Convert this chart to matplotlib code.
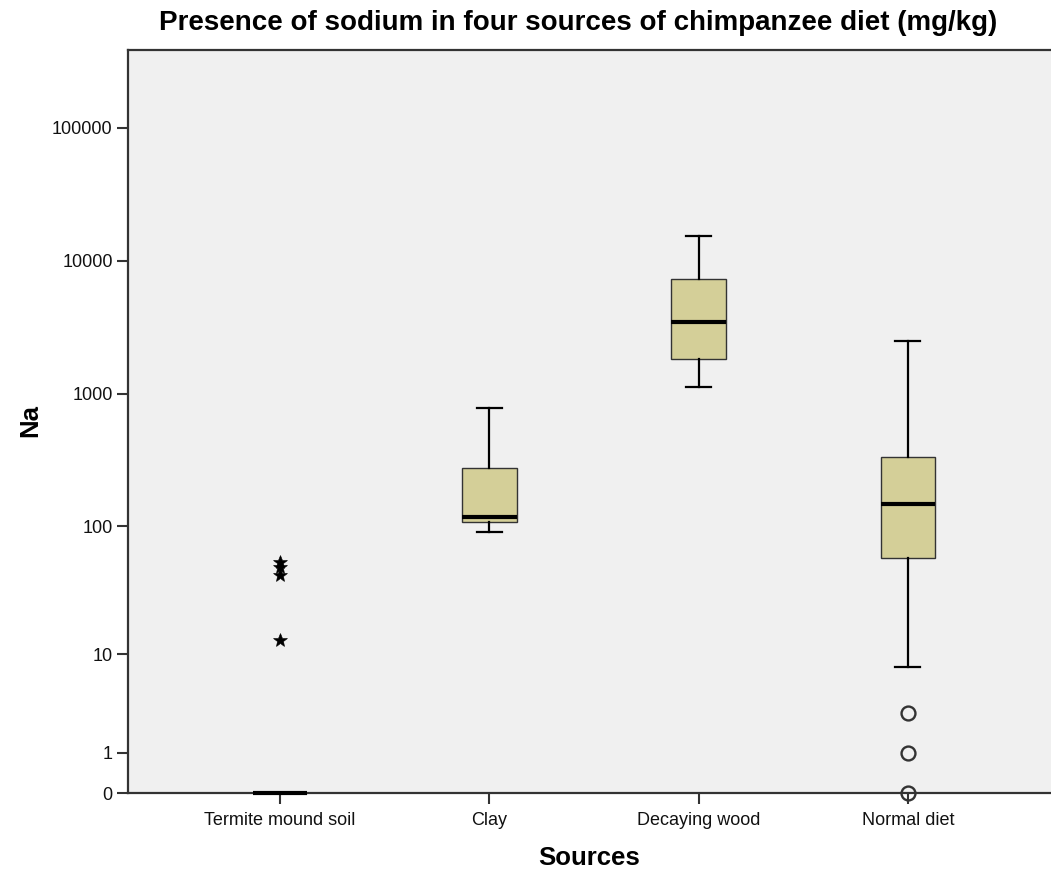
import numpy as np
import matplotlib
matplotlib.use("Agg")
import matplotlib.pyplot as plt

plt.rcParams['font.family'] = ['Liberation Sans', 'DejaVu Sans']

categories = ["Termite mound soil", "Clay", "Decaying wood", "Normal diet"]
medians = [0, 118, 3480, 148]
q1 = [0, 108, 1830, 57.5]
q3 = [0, 277, 7320, 335]
whisker_low = [0, 91, 1130, 7.9]
whisker_high = [0, 784, 15400, 2500]
outliers = [[53.6, 49, 42.5, 13.1], [], [], [3.0, 1.0, 0.0]]
outlier_markers = ['*', 'o', 'o', 'o']
yticks = [0, 1, 10, 100, 1000, 10000, 100000]
ytick_labels = ["0", "1", "10", "100", "1000", "10000", "100000"]

def fwd(y):
    y = np.asarray(y, dtype=float)
    return np.log10(1 + np.clip(y, 0, None))

def inv(x):
    return 10 ** np.asarray(x, dtype=float) - 1

fig = plt.figure(figsize=(10.51, 8.75), dpi=100)
ax = fig.add_axes([128/1051, 82/875, 1 - 128/1051, 743/875])
ax.set_facecolor('#f0f0f0')
ax.set_yscale('function', functions=(fwd, inv))

stats = []
for i, c in enumerate(categories):
    stats.append(dict(label=c, med=medians[i], q1=q1[i], q3=q3[i],
                      whislo=whisker_low[i], whishi=whisker_high[i],
                      fliers=outliers[i]))
pos = np.arange(1, len(categories) + 1)
res = ax.bxp(stats, positions=pos, widths=0.26, patch_artist=True,
             boxprops=dict(facecolor='#d4cf98', edgecolor='#333333', linewidth=1.0),
             medianprops=dict(color='black', linewidth=3),
             whiskerprops=dict(color='black', linewidth=1.6),
             capprops=dict(color='black', linewidth=1.6),
             capwidths=0.12,
             flierprops=dict(marker='o', markersize=10, markerfacecolor='none',
                             markeredgecolor='#333333', markeredgewidth=1.7))
for fl, m in zip(res['fliers'], outlier_markers):
    fl.set_marker(m)
    fl.set_clip_on(False)
    fl.set_zorder(5)
    if m == '*':
        fl.set_markerfacecolor('black')
        fl.set_markeredgecolor('black')
        fl.set_markersize(10)
        fl.set_markeredgewidth(0.4)
for key in ['medians', 'boxes', 'whiskers', 'caps']:
    for a in res[key]:
        a.set_clip_on(False)
        a.set_zorder(4)

ax.set_xlim(0.273, 4.684)
ax.set_ylim(0, 385000)
ax.set_yticks(yticks)
ax.set_yticklabels(ytick_labels)
ax.yaxis.set_minor_locator(matplotlib.ticker.NullLocator())
ax.set_xticks(pos)
ax.set_xticklabels(categories)

ax.spines['right'].set_visible(False)
for s in ['left', 'bottom', 'top']:
    ax.spines[s].set_color('#333333')
    ax.spines[s].set_linewidth(1.6)
ax.tick_params(axis='both', direction='out', length=8, width=1.5, color='#333333',
               labelsize=13, labelcolor='#111111')
ax.tick_params(axis='x', pad=6)
ax.tick_params(axis='y', pad=3)

ax.set_xlabel('Sources', fontsize=18.5, fontweight='bold', labelpad=12)
fig.text(30/1051, 1 - 421/875, 'Na', rotation=90, ha='center', va='center',
         fontsize=18.5, fontweight='bold')
fig.text(578/1051, 1 - 23/875, 'Presence of sodium in four sources of chimpanzee diet (mg/kg)',
         ha='center', va='center', fontsize=20, fontweight='bold')

fig.savefig('out.png', dpi=100)
